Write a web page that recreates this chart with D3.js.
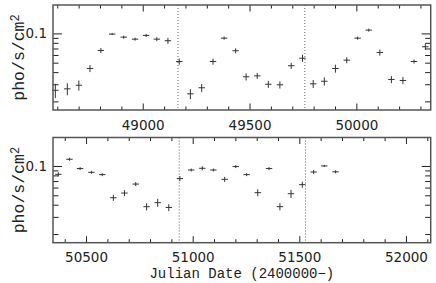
<!DOCTYPE html>
<html>
<head>
<meta charset="utf-8">
<script src="https://cdn.jsdelivr.net/npm/d3@7"></script>
<style>
  body { margin: 0; background: #fff; }
  svg { display: block; }
  .tick line { stroke: #222; }
  .domain { display: none; }
  .num text { font-family: "DejaVu Sans", Arial, sans-serif; font-size: 13.5px; fill: #222; }
</style>
</head>
<body>
<div id="chart"></div>
<script>
// light curve, top panel (date, flux, error)
var topDates = [48591, 48647, 48701, 48753, 48804, 48857, 48911, 48964, 49016, 49066,
                49118, 49171, 49223, 49276, 49329, 49381, 49435, 49484, 49536, 49588,
                49642, 49695, 49748, 49798, 49850, 49902, 49955, 50006, 50058, 50110,
                50164, 50218, 50270, 50323];
var topFlux = [0.0260, 0.0269, 0.0293, 0.0436, 0.0668, 0.0984, 0.0916, 0.0873, 0.0954, 0.0873,
               0.0841, 0.0514, 0.0239, 0.0276, 0.0514, 0.0894, 0.0663, 0.0358, 0.0366, 0.0300,
               0.0296, 0.0465, 0.0556, 0.0303, 0.0322, 0.0436, 0.0531, 0.0894, 0.1081, 0.0637,
               0.0336, 0.0328, 0.0514, 0.0729];
var topErr = [0.0043, 0.0038, 0.0035, 0.0036, 0.0040, 0.0023, 0.0033, 0.0031, 0.0034, 0.0041,
              0.0060, 0.0037, 0.0028, 0.0026, 0.0037, 0.0032, 0.0039, 0.0030, 0.0026, 0.0025,
              0.0025, 0.0033, 0.0046, 0.0029, 0.0031, 0.0041, 0.0038, 0.0032, 0.0038, 0.0045,
              0.0028, 0.0027, 0.0024, 0.0052];

// bottom panel
var botDates = [50370, 50422, 50472, 50525, 50576, 50628, 50680, 50733, 50784, 50836,
                50888, 50940, 50993, 51045, 51097, 51150, 51202, 51253, 51305, 51358,
                51409, 51461, 51514, 51567, 51617, 51670];
var botFlux = [0.0821, 0.1172, 0.0940, 0.0861, 0.0815, 0.0472, 0.0527, 0.0652, 0.0382, 0.0420,
               0.0375, 0.0742, 0.0909, 0.0947, 0.0909, 0.0729, 0.0986, 0.0815, 0.0532, 0.0940,
               0.0382, 0.0519, 0.0643, 0.0867, 0.1000, 0.0871];
var botErr = [0.0039, 0.0042, 0.0033, 0.0031, 0.0029, 0.0034, 0.0037, 0.0031, 0.0032, 0.0040,
              0.0031, 0.0044, 0.0032, 0.0045, 0.0032, 0.0043, 0.0035, 0.0029, 0.0044, 0.0033,
              0.0032, 0.0049, 0.0046, 0.0041, 0.0024, 0.0031];

var binHalf = 15; // half width of time bins, days

var topRange = [48580, 50348];
var botRange = [50345, 52116];
var topMarkers = [49165, 49759];
var botMarkers = [50937, 51529];
var topLabels = [49000, 49500, 50000];
var botLabels = [50500, 51000, 51500, 52000];
var yDomain = [0.0163, 0.196];
var yMinor = [0.02, 0.03, 0.04, 0.05, 0.06, 0.07, 0.08, 0.09];
var yMajor = [0.1];

var W = 436, H = 283;
var margin = { left: 53, right: 5.3 };
var panels = [
    { top: 5, bottom: 110, range: topRange, dates: topDates, flux: topFlux, err: topErr, markers: topMarkers, labels: topLabels },
    { top: 137.5, bottom: 242.7, range: botRange, dates: botDates, flux: botFlux, err: botErr, markers: botMarkers, labels: botLabels }
];

var svg = d3.select("#chart").append("svg")
    .attr("width", W)
    .attr("height", H);

panels.forEach(function(p){
    var x = d3.scaleLinear().domain(p.range).range([margin.left, W - margin.right]);
    var y = d3.scaleLog().domain(yDomain).range([p.bottom, p.top]);

    var g = svg.append("g");

    // minor x ticks every 100 days
    var minor = d3.range(Math.ceil(p.range[0] / 100) * 100, p.range[1], 100)
        .filter(function(d){ return d % 500 !== 0; });

    g.append("g").attr("transform", "translate(0," + p.bottom + ")")
        .call(d3.axisBottom(x).tickValues(minor).tickSize(-3.5).tickFormat(""));
    g.append("g").attr("transform", "translate(0," + p.top + ")")
        .call(d3.axisTop(x).tickValues(minor).tickSize(-3.5).tickFormat(""));
    g.append("g").attr("class", "num").attr("transform", "translate(0," + p.bottom + ")")
        .call(d3.axisBottom(x).tickValues(p.labels).tickSize(-6.5).tickPadding(10).tickFormat(d3.format("d")));
    g.append("g").attr("transform", "translate(0," + p.top + ")")
        .call(d3.axisTop(x).tickValues(p.labels).tickSize(-6.5).tickFormat(""));

    // y ticks, both sides
    g.append("g").attr("transform", "translate(" + margin.left + ",0)")
        .call(d3.axisLeft(y).tickValues(yMinor).tickSize(-5.5).tickFormat(""));
    g.append("g").attr("class", "num").attr("transform", "translate(" + margin.left + ",0)")
        .call(d3.axisLeft(y).tickValues(yMajor).tickSize(-9).tickPadding(6).tickFormat(d3.format("")));
    g.append("g").attr("transform", "translate(" + (W - margin.right) + ",0)")
        .call(d3.axisRight(y).tickValues(yMinor).tickSize(-5.5).tickFormat(""));
    g.append("g").attr("transform", "translate(" + (W - margin.right) + ",0)")
        .call(d3.axisRight(y).tickValues(yMajor).tickSize(-9).tickFormat(""));

    // dotted marker lines
    g.selectAll(".marker").data(p.markers).enter().append("line")
        .attr("x1", function(d){ return x(d); })
        .attr("x2", function(d){ return x(d); })
        .attr("y1", p.top).attr("y2", p.bottom)
        .attr("stroke", "#666").attr("stroke-width", 1)
        .attr("stroke-dasharray", "1,2");

    var pts = p.dates.map(function(d, i){ return { t: d, f: p.flux[i], e: p.err[i] }; });

    var cross = g.selectAll(".pt").data(pts).enter().append("g").attr("class", "pt");
    cross.append("line")
        .attr("x1", function(d){ return x(d.t - binHalf); })
        .attr("x2", function(d){ return x(d.t + binHalf); })
        .attr("y1", function(d){ return y(d.f); })
        .attr("y2", function(d){ return y(d.f); });
    cross.append("line")
        .attr("x1", function(d){ return x(d.t); })
        .attr("x2", function(d){ return x(d.t); })
        .attr("y1", function(d){ return y(d.f - d.e); })
        .attr("y2", function(d){ return y(d.f + d.e); });
    cross.selectAll("line").attr("stroke", "#333").attr("stroke-width", 1);

    // frame
    g.append("rect")
        .attr("x", margin.left).attr("y", p.top)
        .attr("width", W - margin.right - margin.left)
        .attr("height", p.bottom - p.top)
        .attr("fill", "none").attr("stroke", "#555").attr("stroke-width", 1.5);

    // y label
    var lab = g.append("text")
        .attr("transform", "translate(24," + ((p.top + p.bottom) / 2) + ") rotate(-90)")
        .attr("text-anchor", "middle")
        .style("font-family", "'Liberation Mono', 'Courier New', monospace")
        .style("font-size", "16.5px")
        .attr("fill", "#222");
    lab.append("tspan").text("pho/s/cm");
    lab.append("tspan").attr("dy", "-0.45em").style("font-size", "12px").text("2");
});

svg.append("text")
    .attr("x", (margin.left + W - margin.right) / 2)
    .attr("y", 278)
    .attr("text-anchor", "middle")
    .style("font-family", "'Liberation Mono', 'Courier New', monospace")
    .style("font-size", "14px")
    .attr("fill", "#222")
    .text("Julian Date (2400000\u2212)");
</script>
</body>
</html>
